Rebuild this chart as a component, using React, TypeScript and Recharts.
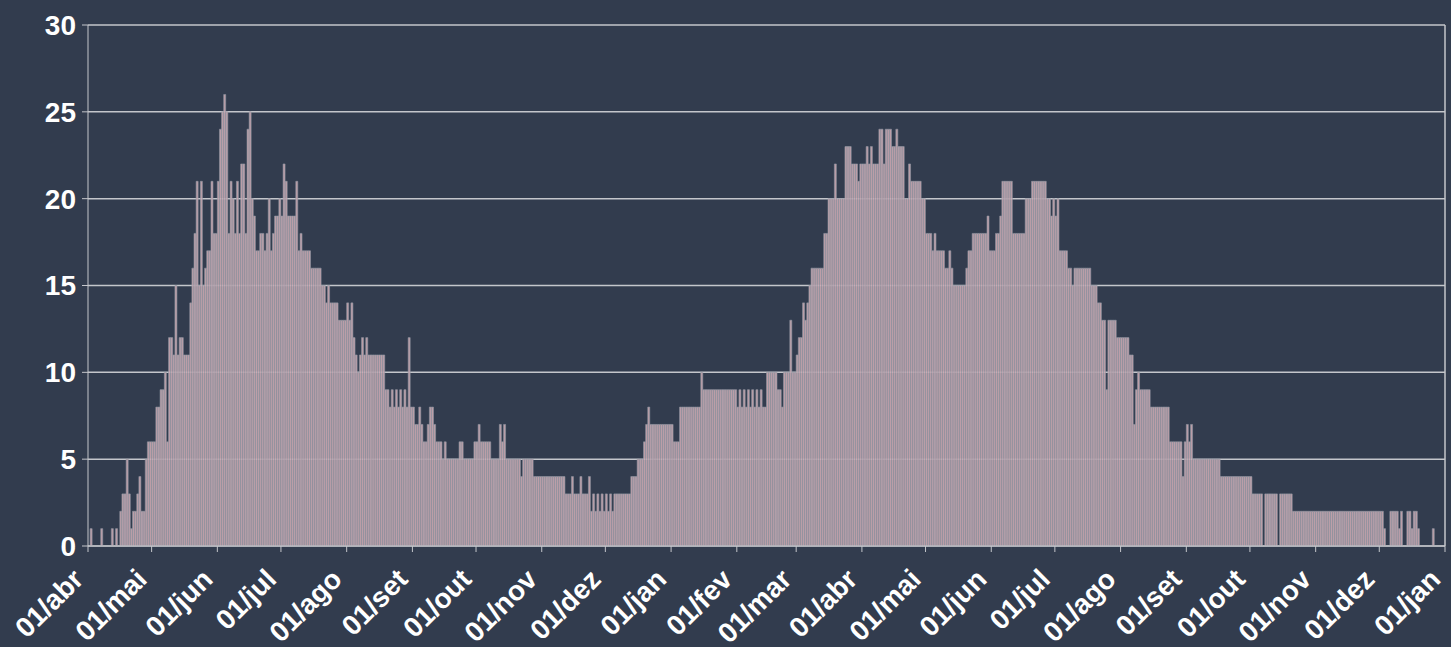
import { BarChart, Bar, XAxis, YAxis, CartesianGrid, ReferenceLine } from "recharts";

// month-start tick labels (pt-BR)
const MONTH_LABELS = [
    "01/abr", "01/mai", "01/jun", "01/jul", "01/ago", "01/set", "01/out", "01/nov", "01/dez",
    "01/jan", "01/fev", "01/mar", "01/abr", "01/mai", "01/jun", "01/jul", "01/ago", "01/set",
    "01/out", "01/nov", "01/dez", "01/jan",
];

const Y_TICKS = [0, 5, 10, 15, 20, 25, 30];

// daily values, one array per month
const abr20 = [0, 1, 0, 0, 0, 0, 1, 0, 0, 0, 0, 1, 0, 1, 0, 2, 3, 3, 5, 3, 1, 2, 2, 3, 4, 2, 2, 5, 6, 6];
const mai20 = [6, 6, 8, 8, 9, 9, 10, 6, 12, 12, 11, 15, 11, 12, 12, 11, 11, 11, 14, 16, 18, 21, 15, 21, 15, 16, 17, 17, 21, 18, 18];
const jun20 = [21, 24, 25, 26, 25, 18, 21, 20, 18, 21, 18, 22, 22, 18, 24, 25, 20, 19, 17, 17, 18, 18, 17, 18, 20, 17, 18, 19, 19, 20];
const jul20 = [19, 22, 21, 19, 19, 19, 19, 21, 17, 18, 17, 17, 17, 17, 16, 16, 16, 16, 16, 15, 15, 14, 15, 14, 14, 14, 14, 13, 13, 13, 13];
const ago20 = [14, 13, 14, 12, 11, 10, 11, 12, 11, 12, 11, 11, 11, 11, 11, 11, 11, 11, 9, 9, 8, 9, 8, 9, 8, 9, 8, 9, 8, 12, 8];
const set20 = [8, 7, 7, 8, 7, 6, 6, 7, 8, 8, 7, 6, 6, 6, 5, 6, 5, 5, 5, 5, 5, 5, 6, 6, 5, 5, 5, 5, 5, 6];
const out20 = [6, 7, 6, 6, 6, 6, 6, 5, 5, 5, 5, 7, 6, 7, 5, 5, 5, 5, 5, 5, 5, 4, 5, 5, 5, 5, 5, 4, 4, 4, 4];
const nov20 = [4, 4, 4, 4, 4, 4, 4, 4, 4, 4, 4, 3, 3, 3, 4, 3, 3, 3, 4, 3, 3, 3, 4, 2, 3, 2, 3, 2, 3, 2];
const dez20 = [3, 2, 3, 2, 3, 3, 3, 3, 3, 3, 3, 3, 4, 4, 4, 5, 5, 5, 6, 7, 8, 7, 7, 7, 7, 7, 7, 7, 7, 7, 7];
const jan21 = [7, 6, 6, 6, 8, 8, 8, 8, 8, 8, 8, 8, 8, 8, 10, 9, 9, 9, 9, 9, 9, 9, 9, 9, 9, 9, 9, 9, 9, 9, 9];
const fev21 = [8, 9, 8, 9, 8, 9, 8, 9, 8, 9, 8, 9, 8, 8, 10, 10, 10, 10, 10, 9, 9, 8, 10, 10, 10, 13, 10, 10];
const mar21 = [11, 12, 12, 14, 13, 14, 15, 16, 16, 16, 16, 16, 16, 18, 18, 20, 20, 20, 22, 20, 20, 20, 20, 23, 23, 23, 22, 22, 22, 21, 22];
const abr21 = [22, 22, 23, 22, 23, 22, 22, 22, 24, 24, 22, 24, 24, 24, 23, 23, 24, 23, 23, 23, 20, 20, 22, 21, 21, 21, 21, 21, 20, 20];
const mai21 = [18, 18, 18, 17, 18, 17, 17, 17, 17, 16, 16, 17, 16, 15, 15, 15, 15, 15, 15, 16, 17, 17, 18, 18, 18, 18, 18, 18, 18, 19, 17];
const jun21 = [17, 17, 18, 18, 19, 21, 21, 21, 21, 21, 18, 18, 18, 18, 18, 18, 20, 20, 20, 21, 21, 21, 21, 21, 21, 21, 20, 20, 19, 20];
const jul21 = [19, 20, 17, 17, 17, 17, 16, 16, 15, 16, 16, 16, 16, 16, 16, 16, 16, 15, 15, 15, 14, 14, 13, 13, 9, 13, 13, 13, 13, 12, 12];
const ago21 = [12, 12, 12, 12, 11, 11, 7, 9, 10, 9, 9, 9, 9, 9, 8, 8, 8, 8, 8, 8, 8, 8, 8, 6, 6, 6, 6, 6, 6, 4, 6];
const set21 = [7, 6, 7, 5, 5, 5, 5, 5, 5, 5, 5, 5, 5, 5, 5, 5, 4, 4, 4, 4, 4, 4, 4, 4, 4, 4, 4, 4, 4, 4];
const out21 = [4, 3, 3, 3, 3, 3, 0, 3, 3, 3, 3, 3, 3, 0, 3, 3, 3, 3, 3, 3, 2, 2, 2, 2, 2, 2, 2, 2, 2, 2, 2];
const nov21 = [2, 2, 2, 2, 2, 2, 2, 2, 2, 2, 2, 2, 2, 2, 2, 2, 2, 2, 2, 2, 2, 2, 2, 2, 2, 2, 2, 2, 2, 2];
const dez21 = [2, 2, 1, 0, 0, 2, 2, 2, 2, 1, 2, 0, 0, 2, 2, 1, 2, 2, 1, 0, 0, 0, 0, 0, 0, 1, 0, 0, 0, 0, 0];

const MONTHS = [
    abr20, mai20, jun20, jul20, ago20, set20, out20, nov20, dez20,
    jan21, fev21, mar21, abr21, mai21, jun21, jul21, ago21, set21, out21, nov21, dez21,
];

const data = MONTHS.flat().map((v, i) => ({ idx: i, key: `d${i}`, valor: v }));

// day index of each month start (last entry = end of series)
const monthStarts = MONTHS.reduce<number[]>((acc, m) => {
    acc.push(acc[acc.length - 1] + m.length);
    return acc;
}, [0]);

const BG = "#323c4e";
const GRID = "#c4c6cb";
const FONT = "'Liberation Sans', Arial, sans-serif";

function MonthTick({ x, y, payload }: any) {
    const i = monthStarts.indexOf(payload.value);
    return (
        <g transform={`translate(${x - 3},${y + 27})`}>
            <text
                x={0}
                y={0}
                textAnchor="end"
                transform="rotate(-45)"
                fill="#ffffff"
                fontSize={28}
                fontWeight="bold"
                fontFamily={FONT}
            >
                {MONTH_LABELS[i]}
            </text>
        </g>
    );
}

export default function App() {
    return (
        <div style={{ position: "absolute", left: 0, top: 0, width: 1451, height: 647, background: BG, overflow: "hidden" }}>
            <BarChart
                width={1451}
                height={647}
                data={data}
                barCategoryGap={0}
                margin={{ top: 25, right: 6, bottom: 0, left: 0 }}
            >
                <CartesianGrid xAxisId="months" vertical={false} stroke={GRID} strokeWidth={1.5} />
                <XAxis xAxisId="days" dataKey="key" type="category" hide height={0} />
                <XAxis
                    xAxisId="months"
                    dataKey="idx"
                    type="number"
                    domain={[0, monthStarts[monthStarts.length - 1]]}
                    ticks={monthStarts}
                    interval={0}
                    allowDataOverflow
                    height={101}
                    stroke={GRID}
                    tickSize={6}
                    tick={<MonthTick />}
                />
                <YAxis
                    domain={[0, 30]}
                    ticks={Y_TICKS}
                    width={88}
                    stroke={GRID}
                    tickSize={6}
                    tickMargin={6}
                    tick={{ fill: "#ffffff", fontSize: 28, fontWeight: "bold", fontFamily: FONT }}
                />
                <ReferenceLine xAxisId="months" x={monthStarts[monthStarts.length - 1]} stroke={GRID} strokeWidth={1.5} />
                <Bar
                    xAxisId="days"
                    dataKey="valor"
                    fill="#ccaab4"
                    fillOpacity={0.9}
                    stroke="#8f96a1"
                    strokeWidth={0.6}
                    isAnimationActive={false}
                />
            </BarChart>
        </div>
    );
}
